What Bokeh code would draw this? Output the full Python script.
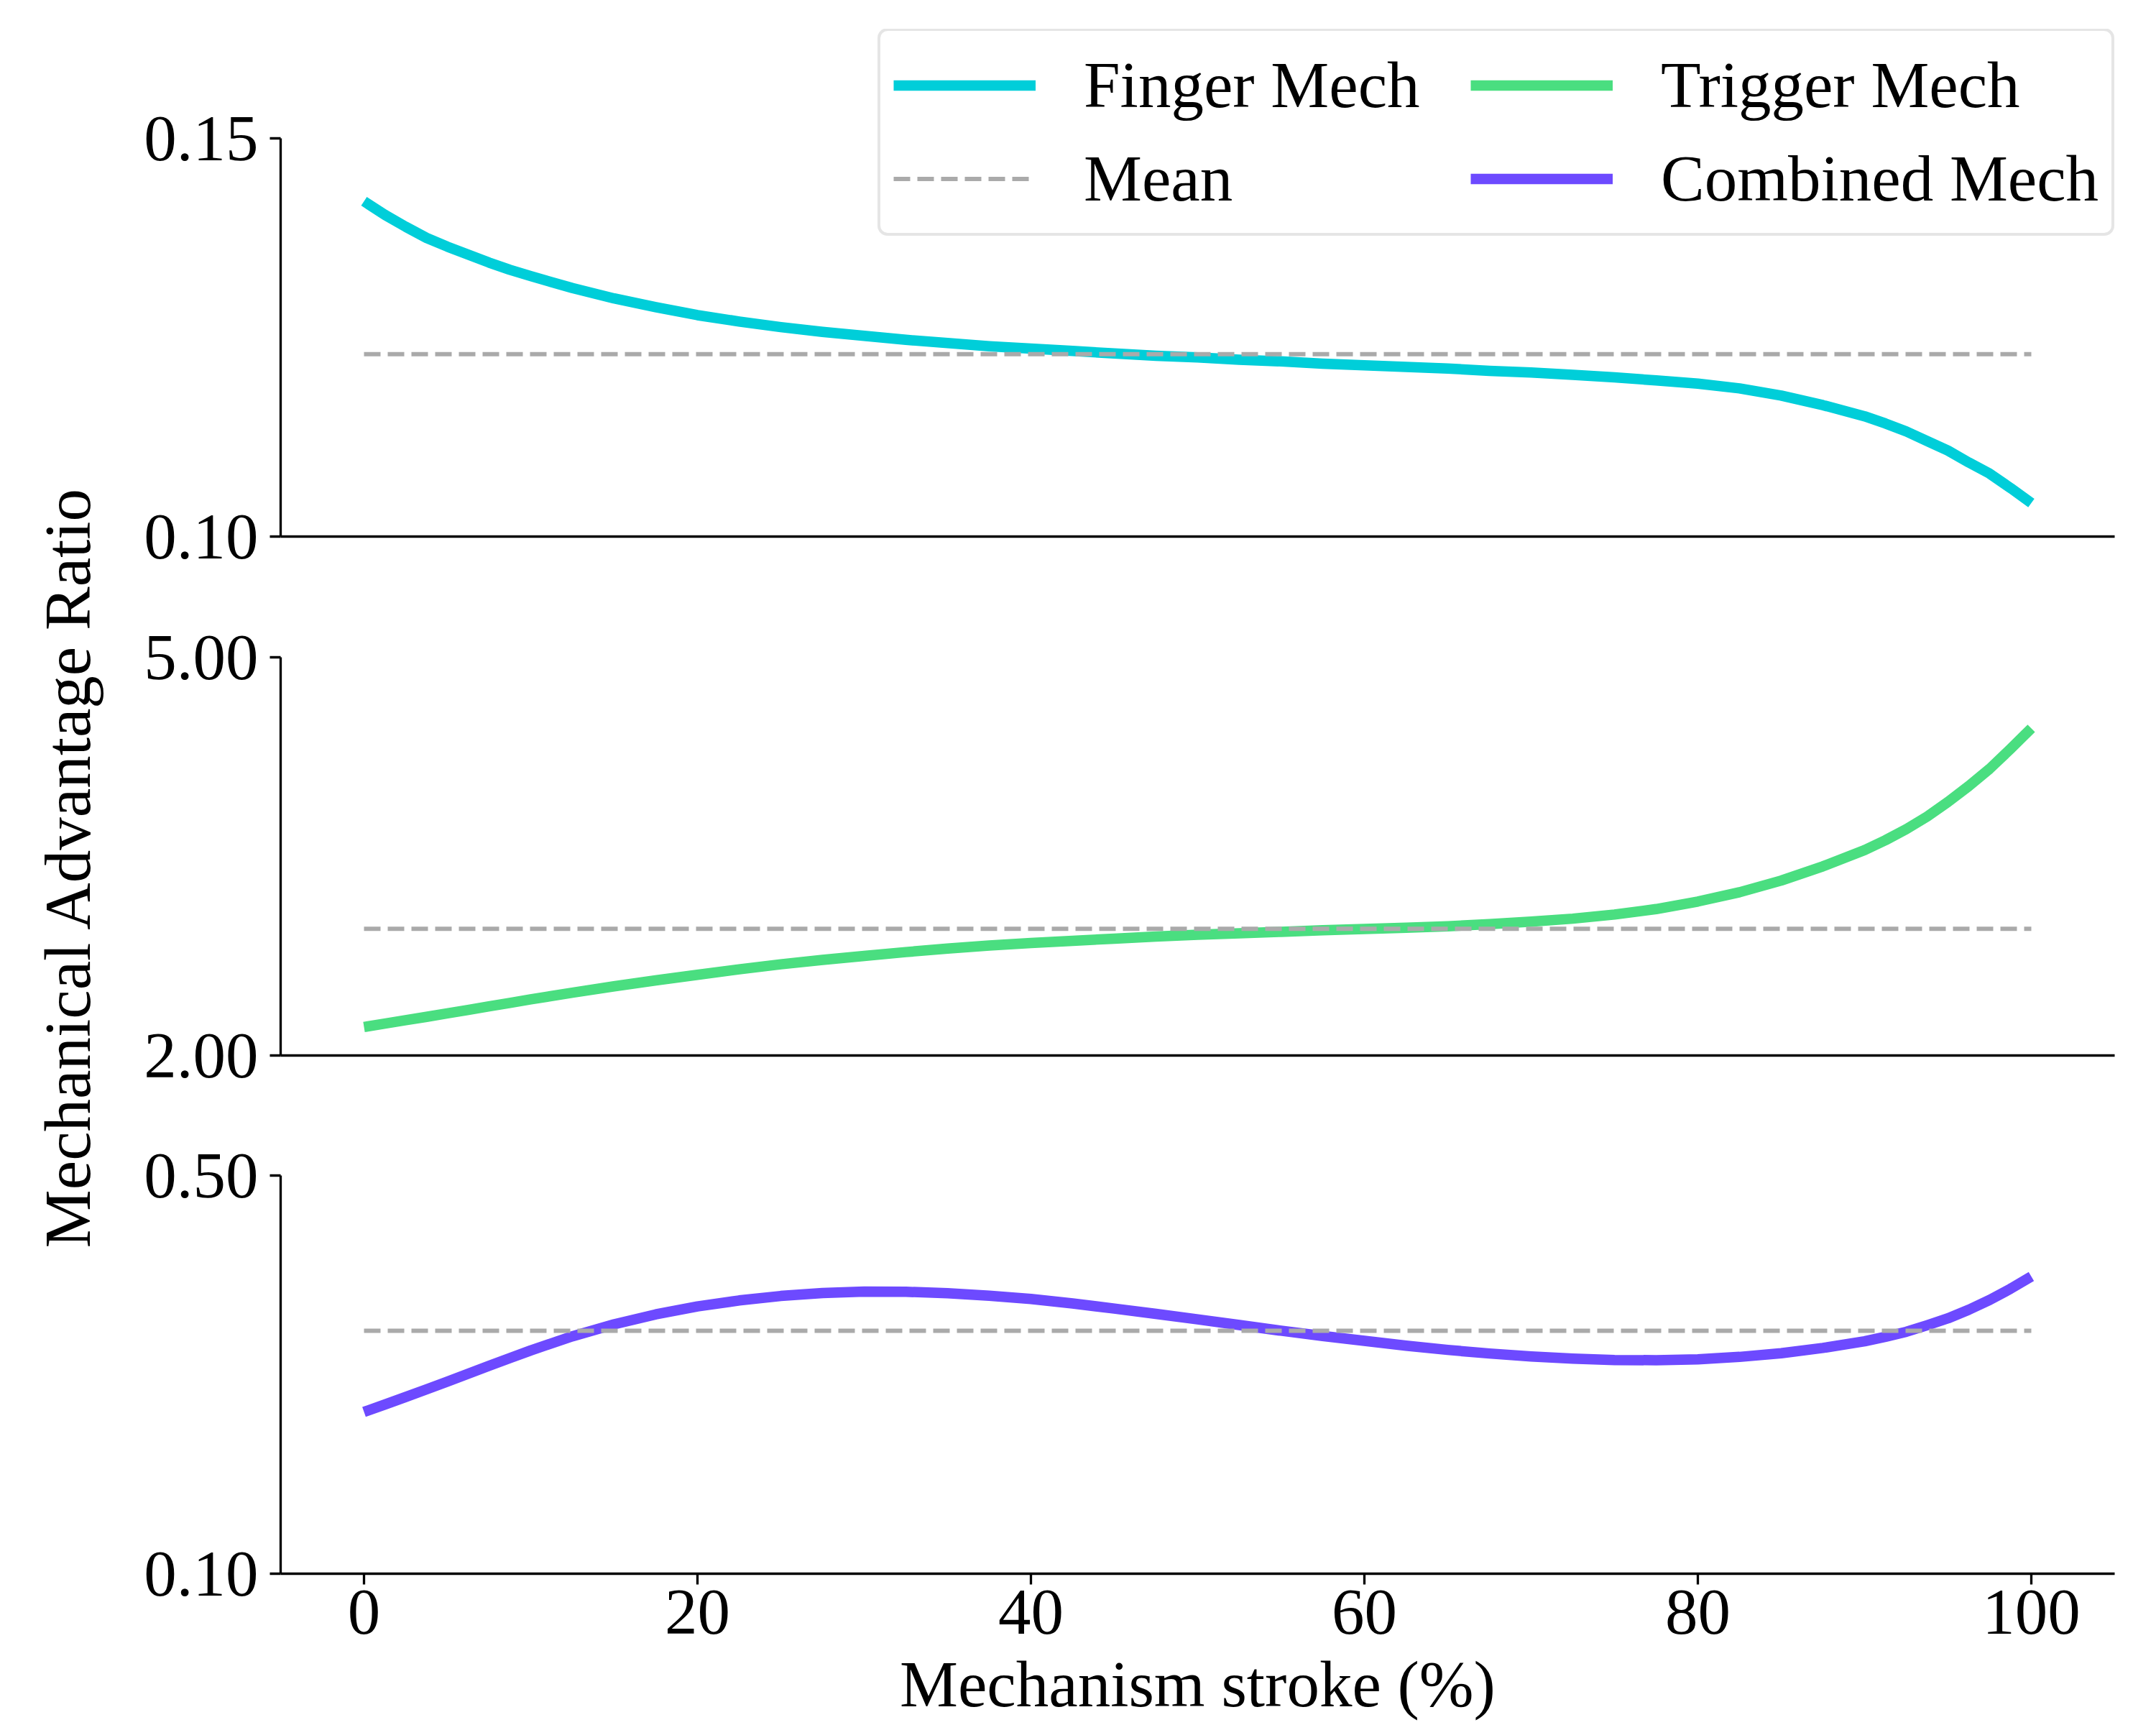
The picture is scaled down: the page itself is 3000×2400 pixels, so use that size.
import math
from bokeh.plotting import figure
from bokeh.models import (Range1d, FixedTicker, PrintfTickFormatter, Legend,
                          LegendItem, Label)
from bokeh.layouts import column, row
from bokeh.embed import file_html
from bokeh.resources import INLINE

# ---------------- data ----------------
stroke = [0, 1.25, 2.5, 3.75, 5, 6.25, 7.5, 8.75, 10,
          12.5, 15, 17.5, 20, 22.5, 25, 27.5, 30, 32.5, 35, 37.5, 40, 42.5,
          45, 47.5, 50, 52.5, 55, 57.5, 60, 62.5, 65, 67.5, 70, 72.5, 75,
          77.5, 80, 82.5, 85, 87.5,
          90, 91.25, 92.5, 93.75, 95, 96.25, 97.5, 98.75, 100]

finger = [0.1421, 0.1404, 0.1389, 0.1375, 0.1364, 0.1354, 0.1344, 0.1335,
          0.1327,
          0.1312, 0.1299, 0.1288, 0.1278, 0.1270, 0.1263, 0.1257, 0.1252,
          0.1247, 0.1243, 0.1239, 0.1236, 0.1233, 0.1230, 0.1227, 0.1225,
          0.1222, 0.1220, 0.1217, 0.1215, 0.1213, 0.1211, 0.1208, 0.1206,
          0.1203, 0.1200, 0.1196, 0.1192, 0.1186, 0.1177, 0.1165,
          0.1151, 0.1142, 0.1132, 0.1120, 0.1108, 0.1093, 0.1079, 0.1061,
          0.1042]

trigger = [2.215, 2.240, 2.266, 2.291, 2.317, 2.343, 2.370, 2.396, 2.423,
           2.473, 2.521, 2.566, 2.608, 2.649, 2.687, 2.720, 2.750, 2.779,
           2.806, 2.828, 2.847, 2.864, 2.880, 2.896, 2.910, 2.921, 2.932,
           2.943, 2.953, 2.963, 2.974, 2.989, 3.008, 3.031, 3.062, 3.103,
           3.160, 3.230, 3.318, 3.425,
           3.547, 3.622, 3.705, 3.800, 3.910, 4.030, 4.160, 4.310, 4.465]

combined = [0.2625, 0.2700, 0.2775, 0.2852, 0.2930, 0.3009, 0.3088, 0.3166,
            0.3243,
            0.3385, 0.3505, 0.3605, 0.3685, 0.3745, 0.3790, 0.3820, 0.3834,
            0.3832, 0.3817, 0.3793, 0.3760, 0.3715, 0.3663, 0.3610, 0.3555,
            0.3498, 0.3441, 0.3388, 0.3339, 0.3291, 0.3248, 0.3212, 0.3182,
            0.3160, 0.3146, 0.3145, 0.3154, 0.3178, 0.3215, 0.3268,
            0.3335, 0.3380, 0.3430, 0.3495, 0.3565, 0.3652, 0.3750, 0.3862,
            0.3986]

finger_mean = 0.1229
trigger_mean = 2.955
combined_mean = 0.3440

finger_ylim = [0.10, 0.15]
trigger_ylim = [2.00, 5.00]
combined_ylim = [0.10, 0.50]
x_ticks = [0, 20, 40, 60, 80, 100]
x_lim = [-5, 105]

labels = ["Finger Mech", "Trigger Mech", "Combined Mech", "Mean"]
colors = ["#00CED9", "#4ADE80", "#6D4AFF"]
mean_color = "#AAAAAA"
x_label = "Mechanism stroke (%)"
y_label = "Mechanical Advantage Ratio"

# ---------------- styling / layout ----------------
FONT = "Liberation Serif"
FS = "91px"
LW = 14.5
AXW = 3.3

LAB_W = 188
FIG_W = 2800
LEFT_B = 202
FRAME_W = 2552          # data frame width (x -5..105)
FRAME_H = 554           # data frame height
TOP_EXTRA = 152         # extra room above panel 1 for the legend
RIGHT_EXTRA = 30        # extra room right of panel 1 for the legend
NAN = float("nan")


def style_axes(p, ylim, show_x):
    p.xgrid.visible = False
    p.ygrid.visible = False
    for ax in (p.xaxis, p.yaxis):
        ax.axis_line_width = AXW
        ax.axis_line_color = "black"
        ax.major_tick_line_width = AXW
        ax.major_tick_line_color = "black"
        ax.major_tick_out = 15
        ax.major_tick_in = 0
        ax.minor_tick_line_color = None
        ax.major_label_text_font = FONT
        ax.major_label_text_font_size = FS
        ax.major_label_text_color = "black"
    p.yaxis.ticker = FixedTicker(ticks=list(ylim))
    p.yaxis.formatter = PrintfTickFormatter(format="%.2f")
    p.yaxis.major_label_standoff = 16
    p.yaxis.bounds = tuple(ylim)
    p.xaxis.bounds = tuple(x_lim)
    if show_x:
        p.xaxis.ticker = FixedTicker(ticks=x_ticks)
        p.xaxis.major_label_standoff = 8
        p.xaxis.axis_label = x_label
        p.xaxis.axis_label_text_font = FONT
        p.xaxis.axis_label_text_font_size = FS
        p.xaxis.axis_label_text_font_style = "normal"
        p.xaxis.axis_label_text_color = "black"
        p.xaxis.axis_label_standoff = 17
    else:
        p.xaxis.ticker = FixedTicker(ticks=[])
        p.xaxis.major_tick_line_color = None
        p.xaxis.major_label_text_font_size = "0px"


def make_fig(ylim, y_end, frame_w, frame_h, x_end, top_b, bottom_b, show_x):
    p = figure(frame_width=frame_w, frame_height=frame_h,
               x_range=Range1d(x_lim[0], x_end), y_range=Range1d(ylim[0], y_end),
               toolbar_location=None, output_backend="svg",
               min_border_left=LEFT_B, min_border_right=FIG_W - LEFT_B - frame_w,
               min_border_top=top_b, min_border_bottom=bottom_b,
               outline_line_color=None, background_fill_color="white",
               border_fill_color="white")
    style_axes(p, ylim, show_x)
    return p


def add_series(p, ys, color, mean_val):
    r = p.line(stroke, ys, line_color=color, line_width=LW, line_join="round")
    m = p.line([stroke[0], stroke[-1]], [mean_val, mean_val],
               line_color=mean_color, line_width=6, line_dash="23 10")
    return r, m


# panel 1 gets a taller/wider frame so the legend is not clipped;
# the axis bounds keep the spines at the real limits
f1_h = FRAME_H + TOP_EXTRA
f1_w = FRAME_W + RIGHT_EXTRA
y1_end = finger_ylim[0] + (finger_ylim[1] - finger_ylim[0]) * f1_h / FRAME_H
x1_end = x_lim[0] + (x_lim[1] - x_lim[0]) * f1_w / FRAME_W

p1 = make_fig(finger_ylim, y1_end, f1_w, f1_h, x1_end, 40, 84, False)
p2 = make_fig(trigger_ylim, trigger_ylim[1], FRAME_W, FRAME_H, x_lim[1],
              84, 84, False)
p3 = make_fig(combined_ylim, combined_ylim[1], FRAME_W, FRAME_H, x_lim[1],
              83, 211, True)

r_f, m_f = add_series(p1, finger, colors[0], finger_mean)
r_t, m_t = add_series(p2, trigger, colors[1], trigger_mean)
r_c, m_c = add_series(p3, combined, colors[2], combined_mean)

# legend proxies living in the top panel (draw nothing in the plot)
proxy_t = p1.line(x=[NAN], y=[NAN], line_color=colors[1], line_width=LW)
proxy_c = p1.line(x=[NAN], y=[NAN], line_color=colors[2], line_width=LW)

legend = Legend(
    items=[LegendItem(label=labels[0], renderers=[r_f]),
           LegendItem(label=labels[3], renderers=[m_f]),
           LegendItem(label=labels[1], renderers=[proxy_t]),
           LegendItem(label=labels[2], renderers=[proxy_c])],
    location=(831, 418), orientation="vertical", ncols=2,
    label_text_font=FONT, label_text_font_size=FS, label_text_color="black",
    glyph_width=198, glyph_height=115, label_height=115, label_width=523,
    label_standoff=67, spacing=15, padding=18, margin=0,
    border_line_color="#CCCCCC", border_line_width=4,
    background_fill_color="white", background_fill_alpha=0.8)
try:
    legend.border_radius = 14
except Exception:
    pass
p1.add_layout(legend)

total_h = 40 + f1_h + 84 + 84 + FRAME_H + 84 + 83 + FRAME_H + 211
lab = figure(width=LAB_W, height=total_h, x_range=Range1d(0, 1),
             y_range=Range1d(0, 1), toolbar_location=None,
             output_backend="svg", x_axis_location=None,
             y_axis_location=None, min_border=0, outline_line_color=None,
             title=None, background_fill_color="white",
             border_fill_color="white")
lab.xgrid.visible = False
lab.ygrid.visible = False
lab.add_layout(Label(x=94, y=total_h - 1205, x_units="screen",
                     y_units="screen", text=y_label, angle=math.pi / 2,
                     text_align="center", text_baseline="alphabetic",
                     text_font=FONT, text_font_size=FS, text_color="black"))

layout = row(lab, column(p1, p2, p3, spacing=0), spacing=0)

open("out.html", "w").write(file_html(layout, INLINE))
